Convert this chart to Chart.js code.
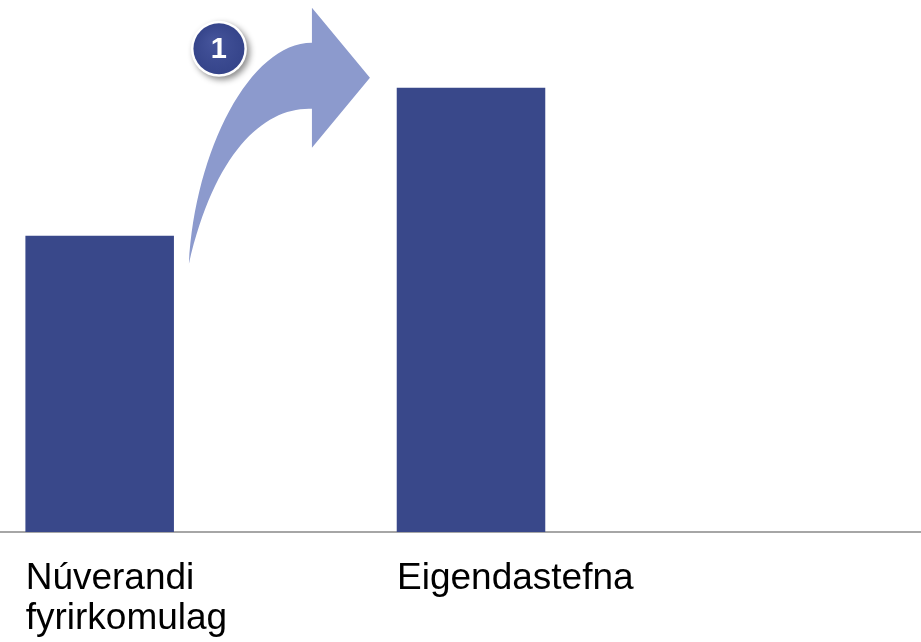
<!DOCTYPE html>
<html>
<head>
<meta charset="utf-8">
<script src="https://cdn.jsdelivr.net/npm/chart.js@4"></script>
<style>
  html, body { margin: 0; padding: 0; background: #fff; overflow: hidden; }
  /* chart is a bit bigger than the window, like the cropped original slide */
  #wrap { position: absolute; left: -86px; top: 0; width: 1114px; height: 670px; }
</style>
</head>
<body>
<div id="wrap"><canvas id="bar-chart"></canvas></div>
<script>
// Chart data
const categories = [["Núverandi", "fyrirkomulag"], "Eigendastefna", ""];
const values = [100, 150, null];
const yMax = 160;

// Curved arrow + numbered badge, placed from the first bar's top right corner
const arrowPlugin = {
  id: "arrow",
  afterDatasetsDraw(chart) {
    const bar = chart.getDatasetMeta(0).data[0];
    const ax = bar.x + bar.width / 2;
    const ay = bar.y;
    const ctx = chart.ctx;
    const p = (dx, dy) => [ax + dx, ay + dy];

    ctx.save();
    ctx.fillStyle = "#8c9acd";
    ctx.beginPath();
    ctx.moveTo(...p(15, 28));
    ctx.bezierCurveTo(...p(21, -85), ...p(76, -193), ...p(138, -193));
    ctx.lineTo(...p(138, -228));
    ctx.lineTo(...p(196, -158));
    ctx.lineTo(...p(138, -88));
    ctx.lineTo(...p(138, -127));
    ctx.bezierCurveTo(...p(91, -129), ...p(41, -85), ...p(15, 28));
    ctx.closePath();
    ctx.fill();

    // badge
    const [cx, cy] = p(45, -187);
    ctx.shadowColor = "rgba(0,0,0,0.45)";
    ctx.shadowBlur = 6;
    ctx.shadowOffsetX = 3;
    ctx.shadowOffsetY = 3;
    ctx.fillStyle = "#ffffff";
    ctx.beginPath();
    ctx.arc(cx, cy, 28, 0, Math.PI * 2);
    ctx.fill();
    ctx.shadowColor = "transparent";
    const grad = ctx.createRadialGradient(cx - 6, cy - 8, 2, cx, cy, 26);
    grad.addColorStop(0, "#44539a");
    grad.addColorStop(1, "#35448a");
    ctx.fillStyle = grad;
    ctx.beginPath();
    ctx.arc(cx, cy, 25.5, 0, Math.PI * 2);
    ctx.fill();
    ctx.fillStyle = "#ffffff";
    ctx.font = "bold 29px 'Liberation Sans', Arial, sans-serif";
    ctx.textAlign = "center";
    ctx.textBaseline = "middle";
    ctx.fillText("1", cx, cy + 1);
    ctx.restore();
  },
};

const ctx = document.getElementById("bar-chart").getContext("2d");
const chart = new Chart(ctx, {
  type: "bar",
  data: {
    labels: categories,
    datasets: [
      {
        data: values,
        backgroundColor: "#39488a",
        categoryPercentage: 1,
        barPercentage: 0.4,
      },
    ],
  },
  options: {
    responsive: true,
    maintainAspectRatio: false,
    animation: false,
    layout: { padding: { top: 58, bottom: 4, left: 0, right: 0 } },
    plugins: {
      legend: { display: false },
      tooltip: { enabled: false },
    },
    scales: {
      x: {
        grid: { drawOnChartArea: false, drawTicks: false },
        border: { display: true, color: "#a6a6a6", width: 2 },
        ticks: {
          color: "#000000",
          align: "start",
          labelOffset: -74,
          padding: 27,
          autoSkip: false,
          maxRotation: 0,
          font: { family: "'Liberation Sans', Arial, sans-serif", size: 37, lineHeight: 1.08 },
        },
      },
      y: {
        display: false,
        min: 0,
        max: yMax,
      },
    },
  },
  plugins: [arrowPlugin],
});
</script>
</body>
</html>
